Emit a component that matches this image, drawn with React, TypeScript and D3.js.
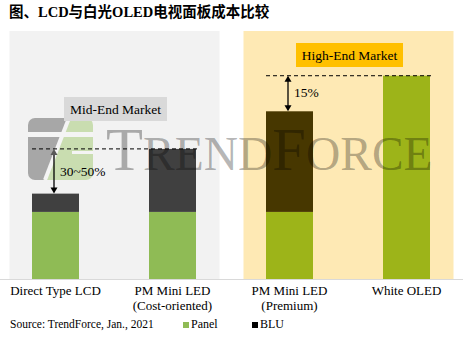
import { useEffect, useRef } from 'react'
import * as d3 from 'd3'

const categories = ['Direct Type LCD', 'PM Mini LED|(Cost-oriented)', 'PM Mini LED|(Premium)', 'White OLED']
const panelCost = [33, 33, 33, 100]
const bluCost = [9, 31, 49.5, 0]
const markets = [
  { name: 'Mid-End Market', cats: [0, 1] },
  { name: 'High-End Market', cats: [2, 3] },
]
const gaps = [
  { from: 0, to: 1, label: '30~50%' },
  { from: 2, to: 3, label: '15%' },
]
const legendItems = ['Panel', 'BLU']

const W = 463
const H = 337
const SERIF = '"Liberation Serif", "Times New Roman", serif'

export default function App() {
  const svgRef = useRef<SVGSVGElement>(null)

  useEffect(() => {
    if (!svgRef.current) return
    const svg = d3.select(svgRef.current)
    svg.selectAll('*').remove()

    const x = d3.scalePoint<number>().domain(d3.range(categories.length)).range([-3, 465]).padding(0.5)
    const y = d3.scaleLinear().domain([0, 122]).range([279, 31])
    const bw = 47
    const total = (i: number) => panelCost[i] + bluCost[i]

    const bgFill = ['#f2f2f2', '#fee9b4']
    const panelFill = ['#8fbb55', '#9db419']
    const bluFill = ['#404040', '#473700']
    const marketOf = (i: number) => (i < 2 ? 0 : 1)

    // market backgrounds
    markets.forEach((m, k) => {
      const x0 = x(m.cats[0])! - 46
      const x1 = x(m.cats[1])! + 47
      svg.append('rect')
        .attr('x', x0).attr('y', y(122))
        .attr('width', x1 - x0).attr('height', y(0) - y(122))
        .attr('fill', bgFill[k])
    })

    // bars
    categories.forEach((_, i) => {
      const cx = x(i)!
      const k = marketOf(i)
      svg.append('rect')
        .attr('x', cx - bw / 2).attr('y', y(panelCost[i]))
        .attr('width', bw).attr('height', y(0) - y(panelCost[i]))
        .attr('fill', panelFill[k])
      if (bluCost[i] > 0) {
        svg.append('rect')
          .attr('x', cx - bw / 2).attr('y', y(total(i)))
          .attr('width', bw).attr('height', y(panelCost[i]) - y(total(i)))
          .attr('fill', bluFill[k])
      }
    })

    // watermark (semi-transparent, over the bars)
    const wm = svg.append('g')
    wm.append('clipPath').attr('id', 'logoClip')
      .append('rect').attr('x', 28).attr('y', 118).attr('width', 65).attr('height', 62).attr('rx', 7)
    const logo = wm.append('g').attr('clip-path', 'url(#logoClip)')
    logo.append('path').attr('d', 'M28,118 L68,118 L44,180 L28,180 Z').attr('fill', '#a7a7a7')
    logo.append('path').attr('d', 'M68,118 L93,118 L93,180 L44,180 Z').attr('fill', '#c9ddb0')
    logo.append('line').attr('x1', 69).attr('y1', 118).attr('x2', 45).attr('y2', 180)
      .attr('stroke', '#f4f4f4').attr('stroke-width', 4)
    logo.append('rect').attr('x', 28).attr('y', 132).attr('width', 65).attr('height', 5).attr('fill', '#f4f4f4')
    logo.append('rect').attr('x', 72).attr('y', 151).attr('width', 21).attr('height', 3).attr('fill', '#f4f4f4')

    const wmText = wm.append('text')
      .attr('x', 106).attr('y', 170)
      .attr('font-family', SERIF)
      .attr('fill', '#000').attr('fill-opacity', 0.3)
    ;[['T', 60.5], ['REND', 47.5], ['F', 60.5], ['ORCE', 47.5]].forEach(([t, s]) => {
      wmText.append('tspan').attr('font-size', s as number).text(t as string)
    })

    // axis line
    svg.append('line').attr('x1', 0).attr('x2', W).attr('y1', y(0) + 0.5).attr('y2', y(0) + 0.5)
      .attr('stroke', '#d9d9d9').attr('stroke-width', 1)

    // market labels
    const boxes = [
      { y: 97, w: 103, fill: '#d9d9d9' },
      { y: 43, w: 107, fill: '#ffc000' },
    ]
    markets.forEach((m, k) => {
      const cx = (x(m.cats[0])! + x(m.cats[1])!) / 2 + 1.5
      const b = boxes[k]
      svg.append('rect')
        .attr('x', cx - b.w / 2).attr('y', b.y).attr('width', b.w).attr('height', 24)
        .attr('fill', b.fill)
      svg.append('text')
        .attr('x', cx).attr('y', b.y + 16.5)
        .attr('text-anchor', 'middle')
        .attr('font-family', SERIF).attr('font-size', 13.5).attr('fill', '#000')
        .text(m.name)
    })

    // gap annotations
    gaps.forEach(g => {
      const yTop = y(total(g.to))
      const yBot = y(total(g.from))
      const x0 = x(g.from)! - bw / 2
      const x1 = x(g.to)! + bw / 2 + 2
      svg.append('line')
        .attr('x1', x0).attr('x2', x1).attr('y1', yTop).attr('y2', yTop)
        .attr('stroke', '#000').attr('stroke-width', 1).attr('stroke-dasharray', '4,3')
      const ax = x(g.from)! - 1.5
      svg.append('line')
        .attr('x1', ax).attr('x2', ax).attr('y1', yTop + 5).attr('y2', yBot - 5)
        .attr('stroke', '#000').attr('stroke-width', 1.3)
      svg.append('path')
        .attr('d', `M${ax},${yTop} L${ax - 3.5},${yTop + 6} L${ax + 3.5},${yTop + 6} Z`)
        .attr('fill', g.from === 0 ? '#595959' : '#000')
      svg.append('path')
        .attr('d', `M${ax},${yBot} L${ax - 3.5},${yBot - 6} L${ax + 3.5},${yBot - 6} Z`)
        .attr('fill', '#000')
      svg.append('text')
        .attr('x', ax + 6).attr('y', g.from === 0 ? yTop + 27 : yTop + 21)
        .attr('font-family', SERIF).attr('font-size', 13.5).attr('fill', '#000')
        .text(g.label)
    })

    // category labels
    categories.forEach((c, i) => {
      const t = svg.append('text')
        .attr('x', x(i)!).attr('y', 295)
        .attr('text-anchor', 'middle')
        .attr('font-family', SERIF).attr('font-size', 13).attr('fill', '#000')
      c.split('|').forEach((line, j) => {
        t.append('tspan').attr('x', x(i)!).attr('dy', j === 0 ? 0 : 15).text(line)
      })
    })

    // title
    svg.append('text')
      .attr('x', 9).attr('y', 17)
      .attr('font-family', '"Liberation Serif", "Noto Sans CJK SC", serif').attr('font-weight', 700)
      .attr('font-size', 14.5).attr('fill', '#000')
      .text('图、LCD与白光OLED电视面板成本比较')

    // source
    svg.append('text')
      .attr('x', 10).attr('y', 328)
      .attr('font-family', SERIF).attr('font-size', 11.5).attr('fill', '#000')
      .text('Source: TrendForce, Jan., 2021')

    // legend
    const legendX = [183, 252]
    const legendFill = ['#8fbb55', '#000']
    legendItems.forEach((name, i) => {
      svg.append('rect').attr('x', legendX[i]).attr('y', 322).attr('width', 6).attr('height', 6)
        .attr('fill', legendFill[i])
      svg.append('text').attr('x', legendX[i] + 8).attr('y', 328)
        .attr('font-family', SERIF).attr('font-size', 12).attr('fill', '#000')
        .text(name)
    })
  }, [])

  return (
    <svg ref={svgRef} width={W} height={H}
      style={{ position: 'absolute', left: 0, top: 0, background: '#fff' }} />
  )
}
